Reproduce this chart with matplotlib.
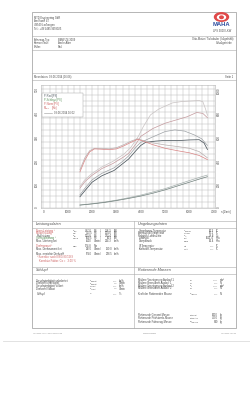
import matplotlib.pyplot as plt
from matplotlib.patches import Ellipse, Rectangle

plt.rcParams['font.family'] = ['Liberation Sans', 'DejaVu Sans']

rpm_rad = [1500, 1700, 2000, 2400, 2900, 3250, 3500, 3800, 4000, 4200, 4600, 5000, 5500, 6000, 6400, 6600, 6740]
p_rad = [47, 72, 108, 135, 157, 185, 205, 240, 262, 275, 280, 283, 282, 285, 286, 272, 245]

rpm_rad2 = [1500, 1700, 2000, 2400, 2900, 3250, 3500, 3800, 4000, 4500, 5000, 5400, 5800, 6200, 6500, 6740]
p_rad2 = [55, 82, 118, 145, 168, 195, 218, 255, 275, 298, 320, 327, 322, 306, 290, 262]

rpm_norm = [1500, 1700, 2000, 2400, 2850, 3300, 3500, 3800, 4000, 4500, 5000, 5500, 5900, 6300, 6550, 6740]
p_norm = [83, 110, 137, 165, 186, 214, 229, 268, 300, 333, 355, 370, 382, 400, 396, 378]

rpm_norm2 = [1500, 1700, 2000, 2400, 2850, 3300, 3600, 3900, 4100, 4400, 4750, 5300, 5700, 6400, 6550, 6660, 6740]
p_norm2 = [90, 118, 145, 172, 195, 225, 255, 300, 340, 390, 415, 440, 446, 450, 445, 415, 388]

rpm_m = [1500, 1700, 1900, 2100, 2400, 2700, 3000, 3300, 3600, 3870, 4100, 4500, 5000, 5500, 6000, 6400, 6740]
m_norm = [302, 400, 470, 495, 492, 488, 495, 520, 550, 575, 560, 530, 500, 480, 462, 440, 405]
m_norm2 = [320, 420, 480, 500, 500, 495, 505, 530, 560, 580, 565, 545, 528, 515, 500, 472, 420]

rpm_s = [1500, 2000, 2500, 3000, 3500, 4000, 4500, 5000, 5500, 6000, 6500, 6740]
p_schlepp = [12, 17, 23, 31, 40, 50, 62, 76, 92, 108, 124, 131]
p_schlepp2 = [13, 18, 25, 33, 43, 54, 67, 81, 98, 115, 131, 138]

x_ticks = [0, 1000, 2000, 3000, 4000, 5000, 6000, 7000]
y_ticks = [0, 100, 200, 300, 400, 500]
m_ticks = [0, 200, 400, 600, 800, 1000]

fig = plt.figure(figsize=(2.5, 4.12), dpi=100)
page = fig.add_axes([0, 0, 1, 1])
page.set_xlim(0, 250)
page.set_ylim(412, 0)
page.axis('off')

ink = '#4c4c4c'
red = '#cc6262'
green = '#5a905a'
fs = 1.9


def sym(x, y, base, sub, color=ink, size=1.5, z=3):
    # Formelzeichen mit kleinem Index, ohne mathtext (sonst zu hoch fuer die engen Zeilen)
    if not base:
        return
    page.text(x, y, base, fontsize=size, color=color, va='center', zorder=z)
    if sub:
        page.text(x + size * 0.75, y + 0.5, sub, fontsize=size * 0.6, color=color, va='center', zorder=z)


# Rahmen und Trennlinien
page.add_patch(Rectangle((32, 12), 204, 316, fill=False, lw=0.5, ec='#999999'))
for yy in [36, 50, 73, 80, 221, 227.5, 267, 273.5]:
    page.plot([32, 236], [yy, yy], color='#aaaaaa', lw=0.4)
page.plot([134, 134], [221, 328], color='#aaaaaa', lw=0.4)
page.plot([3, 250], [341, 341], color='#dddddd', lw=0.6)

# Kopf
for i, t in enumerate(['MTD Engineering GbR', 'Am Kanal 47', '49549 Ladbergen', 'Tel.: +49 5485 9659025']):
    page.text(34, 17.5 + i * 3.8, t, fontsize=1.9, color=ink, va='center')
for i, (a, b) in enumerate([('Fahrzeug-Typ:', 'BMW Z4 3009'), ('Kennzeichen:', 'Andre Alter'), ('Prüfer:', 'Paul')]):
    page.text(34, 39.5 + i * 3.7, a, fontsize=1.9, color=ink, va='center')
    page.text(58, 39.5 + i * 3.7, b, fontsize=1.9, color=ink, va='center')
page.text(233, 39, 'Otto-Motor / Turbolader (luftgekühlt)', fontsize=1.9, color=ink, va='center', ha='right')
page.text(233, 42.8, 'Schaltgetriebe', fontsize=1.9, color=ink, va='center', ha='right')
page.add_patch(Ellipse((221.5, 17), 14, 8.5, color='#e04848'))
page.add_patch(Ellipse((221.5, 17.3), 8, 4.5, color='white'))
page.add_patch(Ellipse((221.5, 17.3), 3.5, 2.5, color='#e04848'))
page.text(221.5, 24.5, 'MAHA', fontsize=4.2, color='#3050a0', fontweight='bold', ha='center', va='center')
page.text(222, 31, 'LPS 3000 LKW', fontsize=1.9, color=ink, ha='center', va='center')

page.text(34, 77, 'Messdatum: 03.06.2014 (16:08)', fontsize=1.9, color=ink, va='center')
page.text(233, 77, 'Seite 1', fontsize=1.9, color=ink, va='center', ha='right')

# Diagramm
ax = fig.add_axes([41 / 250, 1 - 208 / 412, 174 / 250, 123 / 412])
ax.set_xlim(-100, 7050)
ax.set_ylim(0, 515)
ax.set_xticks(x_ticks)
ax.set_yticks(y_ticks)
ax.set_xticks(range(0, 7001, 250), minor=True)
ax.set_yticks(range(0, 501, 25), minor=True)
ax.grid(True, which='both', color='#bcbcbc', lw=0.35)
ax.tick_params(which='both', length=0, labelsize=2.2, labelcolor=ink, pad=1.5)
ax.tick_params(axis='y', labelrotation=90)
for s in ax.spines.values():
    s.set_color('#b4b4b4')
    s.set_linewidth(0.4)
ax.set_axisbelow(True)

ax.plot(rpm_s, p_schlepp2, color='#a6b0ae', lw=0.5)
ax.plot(rpm_s, p_schlepp, color='#6f7f7b', lw=0.5)
ax.plot(rpm_norm2, p_norm2, color='#c9c3c3', lw=0.5)
ax.plot(rpm_rad2, p_rad2, color='#9ea2a6', lw=0.5)
ax.plot(rpm_norm, p_norm, color='#c49a9e', lw=0.5)
ax.plot(rpm_rad, p_rad, color='#4d575e', lw=0.55)

ax2 = ax.twinx()
ax2.set_ylim(0, 1030)
ax2.set_yticks(m_ticks)
ax2.tick_params(length=0, labelsize=2.2, labelcolor=ink, pad=1.5, labelrotation=90)
for s in ax2.spines.values():
    s.set_visible(False)
ax2.plot(rpm_m, m_norm2, color='#b8aeae', lw=0.5)
ax2.plot(rpm_m, m_norm, color='#d88484', lw=0.5)

page.text(226, 212, 'n [1/min]', fontsize=1.9, color=ink, ha='center', va='center')

# Legende im Diagramm
page.add_patch(Rectangle((42.3, 93.3), 41, 23.4, fc='white', ec='#aaaaaa', lw=0.35, zorder=5))
for yy, t, c in [(96.3, 'P-Rad [PS]', '#4d575e'), (100.3, 'P-Schlepp [PS]', green),
                 (104.3, 'P-Norm [PS]', red)]:
    page.text(44, yy, t, fontsize=1.9, color=c, va='center', zorder=6)
sym(44, 108.3, 'M', 'Norm', color=red, size=1.9, z=6)
page.text(51.5, 108.3, '[Nm]', fontsize=1.9, color=red, va='center', zorder=6)
page.plot([44, 52], [113.3, 113.3], color='#999999', lw=0.4, zorder=6)
page.text(54, 113.3, '03.06.2014 16:02', fontsize=1.9, color=ink, va='center', zorder=6)
page.set_zorder(2)
page.patch.set_visible(False)

# Tabellen
page.text(36, 224.3, 'Leistungsdaten', fontsize=2.7, color=ink, va='center', style='italic')
page.text(138, 224.3, 'Umgebungsdaten', fontsize=2.7, color=ink, va='center', style='italic')
page.text(36, 270.2, 'Schlupf', fontsize=2.7, color=ink, va='center', style='italic')
page.text(138, 270.2, 'Rotierende Massen', fontsize=2.7, color=ink, va='center', style='italic')

leist_y = [230.7, 233.3, 235.8, 238.3, 241, 246, 249.3, 253.8]
leist_lab = ['Norm-Leistung ¹', 'Motorleistung ¹', 'Radleistung', 'Schleppleistung ¹',
             'Max. Leistung bei', 'Drehmoment ¹', 'Max. Drehmoment bei', 'Max. erreichte Drehzahl']
leist_sym = [('P', 'Norm'), ('P', 'Mot'), ('P', 'Rad'), ('P', 'Schlepp'), ('', ''), ('M', 'Norm'), ('', ''), ('', '')]
leist_v1 = ['487.0', '413.5', '303.8', '109.5', '6500', '574.8', '3870', '6740']
leist_u1 = ['PS', 'PS', 'PS', 'PS', 'U/min', 'Nm', 'U/min', 'U/min']
leist_v2 = ['358.3', '304.0', '223.4', '80.5', '214.3', '', '130.0', '228.5']
leist_u2 = ['kW', 'kW', 'kW', 'kW', 'km/h', '', 'km/h', 'km/h']
leist_col = [red, red, ink, green, ink, red, ink, ink]
for i in range(len(leist_y)):
    y, c = leist_y[i], leist_col[i]
    page.text(36.5, y, leist_lab[i], fontsize=fs, color=c, va='center')
    sym(73, y, *leist_sym[i])
    page.text(92, y, leist_v1[i], fontsize=fs, color=ink, va='center', ha='right')
    page.text(93.5, y, leist_u1[i], fontsize=fs, color=ink, va='center')
    if leist_v2[i]:
        page.text(100, y, '/', fontsize=fs, color=ink, va='center')
        page.text(112, y, leist_v2[i], fontsize=fs, color=ink, va='center', ha='right')
        page.text(113.5, y, leist_u2[i], fontsize=fs, color=ink, va='center')
page.text(37, 257.3, '¹ Korrektur nach EWG 80/1269', fontsize=fs, color=red, va='center')
page.text(39, 260.6, 'Korrektur-Faktor: Ca =   3.00 %', fontsize=fs, color=red, va='center')

umg_y = [230.7, 233.3, 235.8, 238.3, 241, 246, 249]
umg_lab = ['Umgebungs-Temperatur', 'Ansaugluft-Temperatur', 'Relative Luftfeuchte', 'Luftdruck',
           'Dampfdruck', 'Öl-Temperatur', 'Kraftstoff-Temperatur']
umg_sym = [('T', 'Umgebung'), ('T', 'Ansaug'), ('F', 'rel'), ('p', 'Luft'), ('p', 'Dampf'),
           ('T', 'Öl'), ('T', 'Kraftst')]
umg_val = ['26.3', '26.1', '48.8', '1011.4', '14.4', '---.-', '---.-']
umg_unit = ['°C', '°C', '%', 'hPa', 'hPa', '°C', '°C']
for i in range(len(umg_y)):
    y = umg_y[i]
    page.text(138.5, y, umg_lab[i], fontsize=fs, color=ink, va='center')
    sym(184, y, *umg_sym[i])
    page.text(214, y, umg_val[i], fontsize=fs, color=ink, va='center', ha='right')
    page.text(215.5, y, umg_unit[i], fontsize=fs, color=ink, va='center')

sch_y = [280.8, 283.5, 286.2, 288.8, 294]
sch_lab = ['Geschwindigkeit unbelastet', 'Drehzahl unbelastet', 'Geschwindigkeit Vollast',
           'Drehzahl Vollast', 'Schlupf']
sch_sym = [('v', 'unbelastet'), ('n', 'unbelastet'), ('v', 'Vollast'), ('n', 'Vollast'), ('S', '')]
sch_val = ['---.-', '----', '---.-', '----', '---.-']
sch_unit = ['km/h', 'U/min', 'km/h', 'U/min', '%']
for i in range(len(sch_y)):
    y = sch_y[i]
    page.text(36.5, y, sch_lab[i], fontsize=fs, color=ink, va='center')
    sym(90, y, *sch_sym[i])
    page.text(117, y, sch_val[i], fontsize=fs, color=ink, va='center', ha='right')
    page.text(118.5, y, sch_unit[i], fontsize=fs, color=ink, va='center')

rot_y = [280.3, 283, 285.6, 288.3, 293.8, 315, 318.3, 321.6]
rot_lab = ['Mittlere Verzögerung Auslauf 1', 'Mittlere Bremskraft Auslauf 1',
           'Mittlere Verzögerung Auslauf 2', 'Mittlere Bremskraft Auslauf 2',
           'Kraft der Rotierenden Masse', 'Rotierende Gesamt-Masse',
           'Rotierende Prüfstands-Masse', 'Rotierende Fahrzeug-Masse']
rot_sym = [('a', '1'), ('F', '1'), ('a', '2'), ('F', '2'), ('F', 'rot.Massen'), ('m', 'rot.Gesamt'),
           ('m', 'rot.Prüfstand'), ('m', 'rot.Fahrzeug')]
rot_val = ['---.--', '---.-', '---.--', '---.-', '---.-', '5410', '4600', '810']
rot_unit = ['m/s²', 'N', 'm/s²', 'N', 'N', 'kg', 'kg', 'kg']
for i in range(len(rot_y)):
    y = rot_y[i]
    page.text(138.5, y, rot_lab[i], fontsize=fs, color=ink, va='center')
    sym(190, y, *rot_sym[i])
    page.text(218, y, rot_val[i], fontsize=fs, color=ink, va='center', ha='right')
    page.text(220, y, rot_unit[i], fontsize=fs, color=ink, va='center')

# Fusszeile
page.text(33, 333, 'LPS 3000 V1.00 / 03.06.2014 16:08', fontsize=1.4, color='#888888', va='center')
page.text(150, 333, '03062014160800', fontsize=1.4, color='#888888', va='center', ha='center')
page.text(236, 333, 'LPS 3000 V3.2.00', fontsize=1.4, color='#888888', va='center', ha='right')

fig.savefig('out.png', dpi=100)
